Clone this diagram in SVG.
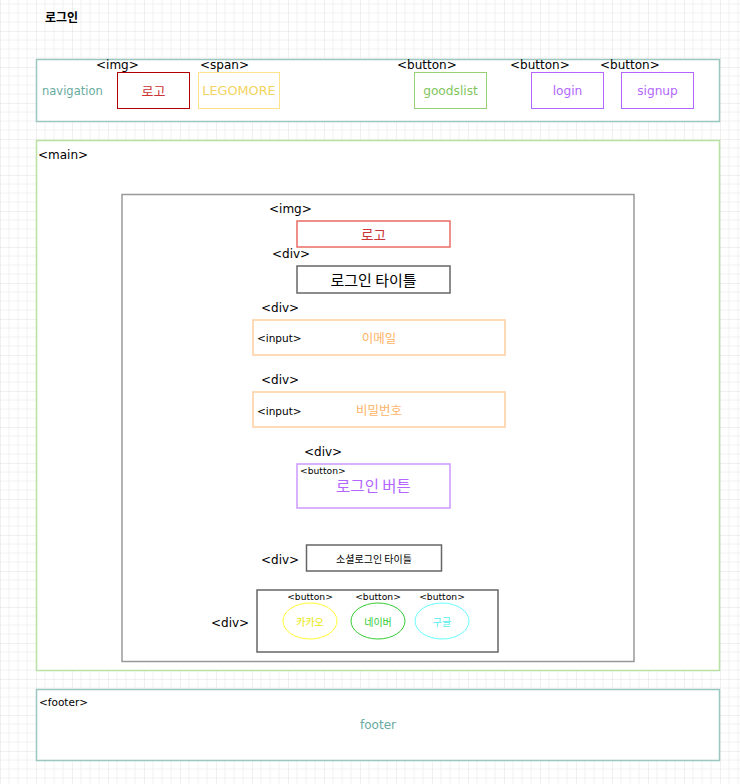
<svg xmlns="http://www.w3.org/2000/svg" width="740" height="784" viewBox="0 0 740 784">
<defs>
<pattern id="grid" patternUnits="userSpaceOnUse" x="0" y="31" width="36" height="36">
<path d="M9 0V36M18 0V36M27 0V36M0 9H36M0 18H36M0 27H36" stroke="#f2f2f2" stroke-width="1" fill="none"/>
<path d="M0 0V36M0 0H36" stroke="#e2e2e2" stroke-width="1" fill="none"/>
</pattern>
<style>
text{font-family:"DejaVu Sans","Noto Sans CJK KR",sans-serif;}
.k{font-family:"Noto Sans CJK KR","DejaVu Sans",sans-serif;}
.tag{font-size:12px;fill:#000;}
.stag{font-size:10.5px;fill:#000;}
.xs{font-size:9.2px;fill:#000;}
.box{fill:#fff;}
.c{text-anchor:middle;dominant-baseline:central;}
</style>
</defs>
<rect width="740" height="784" fill="#fff"/>
<rect width="740" height="784" fill="url(#grid)"/>

<g id="title"><text x="45" y="22" class="k" font-size="12" font-weight="bold">로그인</text></g>

<g id="navigation">
<rect x="36.5" y="59.5" width="683" height="62" class="box" stroke="#9AC7BF" stroke-width="1.5"/>
<text x="42" y="94.5" font-size="11.5" fill="#67AB9F">navigation</text>
</g>
<g id="nav-logo">
<text x="96" y="69" class="tag">&lt;img&gt;</text>
<rect x="117.5" y="72.5" width="72" height="36" class="box" stroke="#B20000" stroke-width="1"/>
<text x="153.5" y="90.5" class="c k" font-size="13" fill="#CC3333">로고</text>
</g>
<g id="nav-span">
<text x="200" y="69" class="tag">&lt;span&gt;</text>
<rect x="198.5" y="72.5" width="81" height="36" class="box" stroke="#FFE38A" stroke-width="1"/>
<text x="239" y="90.5" class="c" font-size="12.8" fill="#F4D35E">LEGOMORE</text>
</g>
<g id="nav-goodslist">
<text x="397" y="69" class="tag">&lt;button&gt;</text>
<rect x="414.5" y="72.5" width="72" height="36" class="box" stroke="#97D077" stroke-width="1"/>
<text x="450.5" y="90.5" class="c" font-size="12.2" fill="#82C65D">goodslist</text>
</g>
<g id="nav-login">
<text x="510" y="69" class="tag">&lt;button&gt;</text>
<rect x="531.5" y="72.5" width="72" height="36" class="box" stroke="#B266FF" stroke-width="1"/>
<text x="567.5" y="90.5" class="c" font-size="12.2" fill="#B266FF">login</text>
</g>
<g id="nav-signup">
<text x="600" y="69" class="tag">&lt;button&gt;</text>
<rect x="621.5" y="72.5" width="72" height="36" class="box" stroke="#B266FF" stroke-width="1"/>
<text x="657.5" y="90.5" class="c" font-size="12.2" fill="#B266FF">signup</text>
</g>

<g id="main">
<rect x="36.5" y="140.5" width="683" height="530" class="box" stroke="#B9E0A5" stroke-width="1.5"/>
<text x="38" y="159" class="tag">&lt;main&gt;</text>
</g>
<g id="login-box">
<rect x="122" y="194.5" width="512" height="467" class="box" stroke="#999999" stroke-width="1.5"/>
</g>
<g id="login-logo">
<text x="269" y="213" class="tag">&lt;img&gt;</text>
<rect x="297" y="221" width="153" height="26" class="box" stroke="#EA6B66" stroke-width="1.5"/>
<text x="373.5" y="233.5" class="c k" font-size="13.5" fill="#CC3333">로고</text>
</g>
<g id="login-title">
<text x="272" y="258" class="tag">&lt;div&gt;</text>
<rect x="297" y="266" width="153" height="27" class="box" stroke="#666666" stroke-width="1.5"/>
<text x="373.5" y="279" class="c k" font-size="15" fill="#000">로그인 타이틀</text>
</g>
<g id="email">
<text x="261" y="312" class="tag">&lt;div&gt;</text>
<rect x="253" y="320" width="252" height="35" class="box" stroke="#FFCE9F" stroke-width="1.5"/>
<text x="257" y="342" class="stag">&lt;input&gt;</text>
<text x="379" y="337" class="c k" font-size="12.5" fill="#FFB366">이메일</text>
</g>
<g id="password">
<text x="261" y="384" class="tag">&lt;div&gt;</text>
<rect x="253" y="392" width="252" height="35" class="box" stroke="#FFCE9F" stroke-width="1.5"/>
<text x="257" y="415" class="stag">&lt;input&gt;</text>
<text x="379" y="409" class="c k" font-size="12.5" fill="#FFB366">비밀번호</text>
</g>
<g id="login-button">
<text x="304" y="456" class="tag">&lt;div&gt;</text>
<rect x="297" y="464" width="153" height="44" class="box" stroke="#CC99FF" stroke-width="1.5"/>
<text x="300" y="474" class="xs">&lt;button&gt;</text>
<text x="373.5" y="485" class="c k" font-size="15.5" fill="#B266FF">로그인 버튼</text>
</g>
<g id="social-title">
<text x="261" y="564" class="tag">&lt;div&gt;</text>
<rect x="306.5" y="545" width="135" height="26" class="box" stroke="#666666" stroke-width="1.5"/>
<text x="374" y="558" class="c k" font-size="10" fill="#000">소셜로그인 타이틀</text>
</g>
<g id="social-buttons">
<text x="211" y="627" class="tag">&lt;div&gt;</text>
<rect x="257" y="590" width="241" height="62" class="box" stroke="#666666" stroke-width="1.5"/>
</g>
<g id="kakao">
<text x="310" y="600" class="xs" text-anchor="middle">&lt;button&gt;</text>
<ellipse cx="310" cy="621" rx="27" ry="18" class="box" stroke="#FFFF33" stroke-width="1"/>
<text x="310" y="621" class="c k" font-size="10" fill="#E8E800">카카오</text>
</g>
<g id="naver">
<text x="378" y="600" class="xs" text-anchor="middle">&lt;button&gt;</text>
<ellipse cx="378" cy="621" rx="27" ry="18" class="box" stroke="#33CC33" stroke-width="1"/>
<text x="378" y="621" class="c k" font-size="10" fill="#33CC33">네이버</text>
</g>
<g id="google">
<text x="442" y="600" class="xs" text-anchor="middle">&lt;button&gt;</text>
<ellipse cx="442" cy="621" rx="27" ry="18" class="box" stroke="#66FFFF" stroke-width="1"/>
<text x="442" y="621" class="c k" font-size="10" fill="#55EEEE">구글</text>
</g>

<g id="footer">
<rect x="36.5" y="689.5" width="683" height="71" class="box" stroke="#9AC7BF" stroke-width="1.5"/>
<text x="39" y="706" class="stag">&lt;footer&gt;</text>
<text x="378" y="725" class="c" font-size="12" fill="#67AB9F">footer</text>
</g>
<g id="connectors"></g>
</svg>
